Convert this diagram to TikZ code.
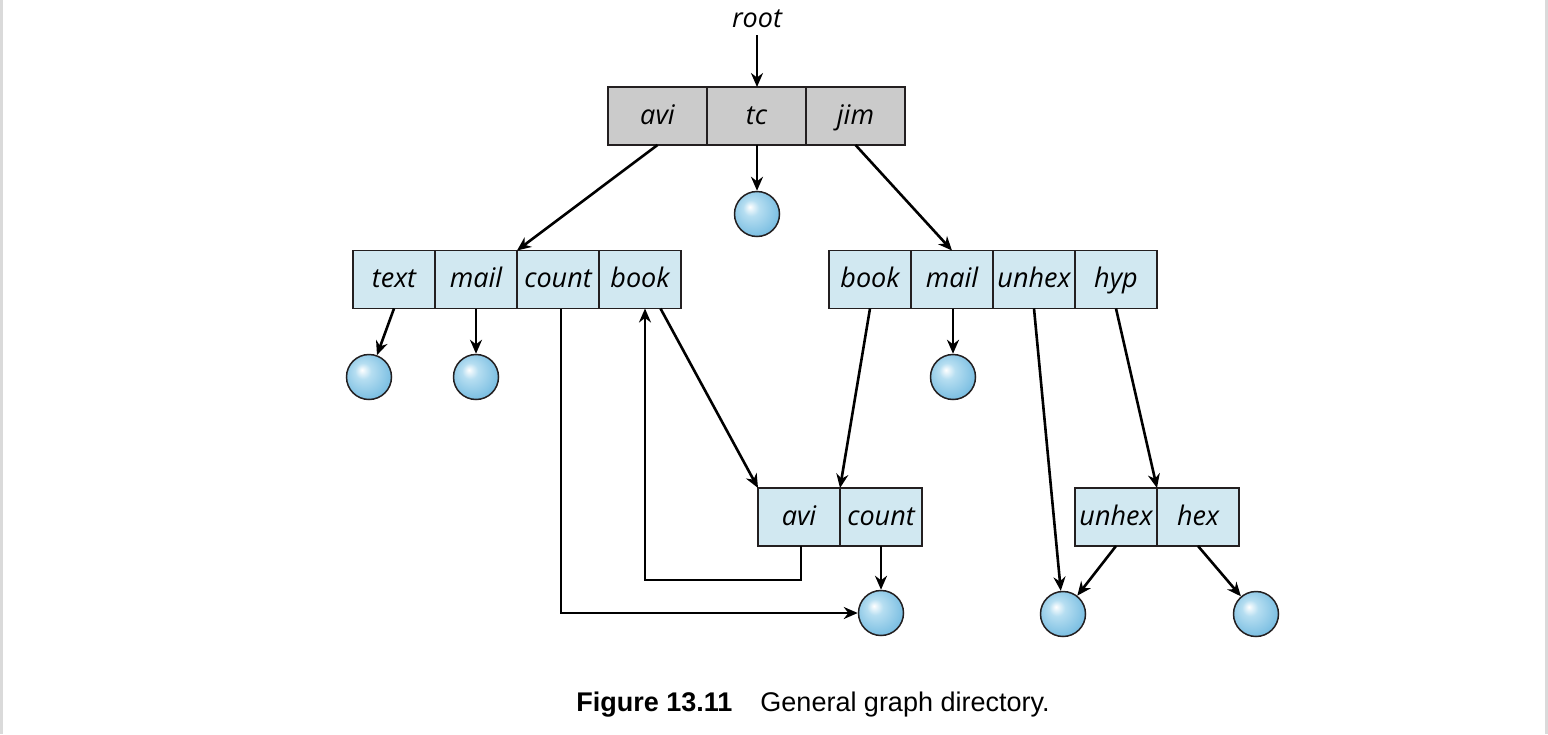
\documentclass[tikz,border=0pt]{standalone}
\usepackage{fontspec}
\setmainfont{Open Sans}
\newfontfamily\capfont{Liberation Sans}
\usetikzlibrary{positioning,arrows.meta,calc}
\definecolor{dirgray}{HTML}{CBCBCB}
\definecolor{dirblue}{HTML}{D1E8F1}
\definecolor{inkline}{HTML}{231F20}
\definecolor{ballmid}{HTML}{B6DEF1}
\definecolor{balledge}{HTML}{7CBFE2}
\definecolor{pageedge}{HTML}{DADADA}
\pgfdeclareradialshading{fileball}{\pgfpoint{-8bp}{8bp}}{color(0bp)=(white); color(9bp)=(ballmid); color(28bp)=(balledge); color(50bp)=(balledge)}

\begin{document}
\begin{tikzpicture}[x=0.5pt,y=-0.5pt,
  cell/.style={draw=inkline, line width=0.75pt, fill=dirblue, minimum width=41pt, minimum height=29pt, inner sep=0pt, outer sep=0pt, text height=1.9ex, text depth=0.4ex, font=\fontsize{13.5}{16}\selectfont\itshape},
  topcell/.style={cell, fill=dirgray, minimum width=49.5pt},
  file/.style={circle, draw=inkline, line width=0.75pt, shading=fileball, minimum size=22.5pt, inner sep=0pt},
  link/.style={-{Stealth[length=7pt,width=6pt]}, line width=1.3pt, draw=black}]
\useasboundingbox (0,0) rectangle (1548,734);
\fill[pageedge] (0,0) rectangle (3,734);
\fill[pageedge] (1545,0) rectangle (1548,734);

% root directory
\node[font=\fontsize{13.5}{16}\selectfont\itshape] (root) at (757,19) {root};
\node[topcell] (avi) at (657.5,116) {avi};
\node[topcell, right=0pt of avi] (tc) {tc};
\node[topcell, right=0pt of tc] (jim) {jim};

% second level
\node[cell] (text) at (394,279.5) {text};
\node[cell, right=0pt of text] (mail) {mail};
\node[cell, right=0pt of mail] (count) {count};
\node[cell, right=0pt of count] (book) {book};

\node[cell] (rbook) at (870,279.5) {book};
\node[cell, right=0pt of rbook] (rmail) {mail};
\node[cell, right=0pt of rmail] (runhex) {unhex};
\node[cell, right=0pt of runhex] (hyp) {hyp};

% third level
\node[cell] (lavi) at (799,517) {avi};
\node[cell, right=0pt of lavi] (lcount) {count};
\node[cell] (lunhex) at (1116,517) {unhex};
\node[cell, right=0pt of lunhex] (hex) {hex};

% files
\node[file] (tcfile) at (757,214) {};
\node[file] (textfile) at (369,377) {};
\node[file] (mailfile) at (476,377) {};
\node[file] (rmailfile) at (953,377) {};
\node[file] (cyclefile) at (881,613) {};
\node[file] (unhexfile) at (1063,614) {};
\node[file] (hexfile) at (1256,614) {};

% links
\draw[link] (root) -- (root |- tc.north);
\draw[link] (tc.south -| tcfile) -- (tcfile);
\draw[link] (avi.south) -- (count.north west);
\draw[link] (jim.south) -- (rmail.north);
\draw[link] (text.south) -- (textfile);
\draw[link] (rmail.south -| rmailfile) -- (rmailfile);
\draw[link] (mail.south) -- (mailfile);
\draw[link] ([xshift=1.5pt]count.south) |- (cyclefile.west);
\draw[link] ($(book.south)!0.5!(book.south east)$) -- (lavi.north west);
\draw[link] ([xshift=1pt]lavi.south) -- ++(0,34) -| ([xshift=2.5pt]book.south);
\draw[link] (rbook.south) -- (lavi.north east);
\draw[link] (runhex.south) -- (unhexfile);
\draw[link] (hyp.south) -- (lunhex.north east);
\draw[link] (lcount.south) -- (cyclefile);
\draw[link] (lunhex.south) -- (unhexfile);
\draw[link] (hex.south) -- (hexfile);

\node[font=\capfont\fontsize{13.5}{16}\selectfont] (caption) at (813,705) {\textbf{Figure 13.11}\hspace{14pt}General graph directory.};
\end{tikzpicture}
\end{document}
